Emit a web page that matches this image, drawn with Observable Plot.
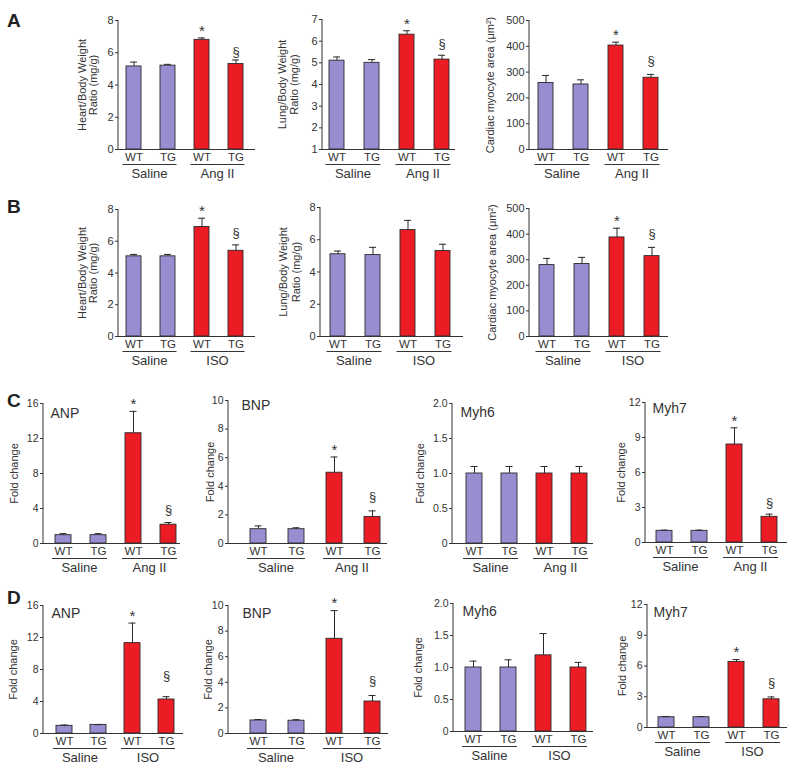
<!DOCTYPE html>
<html>
<head>
<meta charset="utf-8">
<script src="https://cdn.jsdelivr.net/npm/d3@7"></script>
<script src="https://cdn.jsdelivr.net/npm/@observablehq/plot@0.6"></script>
<style>
  html, body { margin: 0; padding: 0; background: #fff; }
  #fig { position: relative; width: 800px; height: 770px; overflow: hidden;
         font-family: "Liberation Sans", Arial, sans-serif; color: #333; }
  .panel { position: absolute; }
  .panel svg { overflow: visible; }
  .letter { position: absolute; font-weight: bold; font-size: 19px; line-height: 1; color: #222; }
</style>
</head>
<body>
<div id="fig"></div>
<script>
// ---------------- DATA ----------------
const genotypes = ["WT", "TG"];
const treatAng = ["Saline", "Ang II"];
const treatIso = ["Saline", "ISO"];

// significance markers (per bar: WT-Saline, TG-Saline, WT-treated, TG-treated)
const sigStd  = ["", "", "*", "§"];
const sigNone = ["", "", "", ""];

// Panel A (Ang II)
const heartAng    = [5.15, 5.2, 6.8, 5.3];
const heartAngSem = [0.27, 0.08, 0.12, 0.25];
const lungAng     = [5.1, 5.0, 6.3, 5.15];
const lungAngSem  = [0.17, 0.15, 0.18, 0.2];
const areaAng     = [258, 252, 403, 278];
const areaAngSem  = [29, 18, 13, 13];

// Panel B (ISO)
const heartIso    = [5.05, 5.05, 6.9, 5.4];
const heartIsoSem = [0.12, 0.12, 0.55, 0.37];
const lungIso     = [5.1, 5.05, 6.6, 5.3];
const lungIsoSem  = [0.2, 0.48, 0.6, 0.42];
const areaIso     = [279, 283, 387, 314];
const areaIsoSem  = [26, 26, 36, 34];

// Panel C (Ang II, fold change)
const anpAng     = [0.95, 0.95, 12.6, 2.15];
const anpAngSem  = [0.18, 0.18, 2.5, 0.25];
const bnpAng     = [1.0, 1.0, 4.95, 1.86];
const bnpAngSem  = [0.23, 0.1, 1.1, 0.42];
const myh6Ang    = [1.0, 1.0, 1.0, 1.0];
const myh6AngSem = [0.1, 0.1, 0.1, 0.1];
const myh7Ang    = [1.0, 1.0, 8.4, 2.2];
const myh7AngSem = [0.06, 0.06, 1.43, 0.23];

// Panel D (ISO, fold change)
const anpIso     = [0.96, 1.08, 11.3, 4.25];
const anpIsoSem  = [0.1, 0.03, 2.5, 0.35];
const bnpIso     = [1.02, 1.0, 7.4, 2.5];
const bnpIsoSem  = [0.07, 0.08, 2.2, 0.47];
const myh6Iso    = [1.0, 1.0, 1.19, 1.0];
const myh6IsoSem = [0.1, 0.12, 0.34, 0.08];
const myh7Iso    = [1.0, 1.0, 6.4, 2.75];
const myh7IsoSem = [0.07, 0.07, 0.23, 0.23];

// y tick values
const ticks0to8   = [0, 2, 4, 6, 8];
const ticks1to7   = [1, 2, 3, 4, 5, 6, 7];
const ticks0to500 = [0, 100, 200, 300, 400, 500];
const ticks0to16  = [0, 4, 8, 12, 16];
const ticks0to10  = [0, 2, 4, 6, 8, 10];
const ticks0to2   = [0, 0.5, 1, 1.5, 2];
const ticks0to12  = [0, 3, 6, 9, 12];

// labels
const heartLabel = "Heart/Body Weight\nRatio (mg/g)";
const lungLabel  = "Lung/Body Weight\nRatio (mg/g)";
const areaLabel  = "Cardiac myocyte area (μm²)";
const foldLabel  = "Fold change";
const panelLetters = ["A", "B", "C", "D"];

// ---------------- STYLE / LAYOUT ----------------
const purple = "#968ed0";
const red = "#ec1c24";
const ink = "#333";
const edge = "#2a2a2a";
const fmtInt = d => String(d);
const fmtDec = d => d === 0 ? "0" : d.toFixed(1);

const panels = [
  // row A
  {treat: treatAng, values: heartAng, sem: heartAngSem, sig: sigStd, domain: [0, 8], ticks: ticks0to8, fmt: fmtInt, label: heartLabel,
   axis: 118, end: 255, centers: [133, 168, 203, 236], yTop: 20, yBot: 149, bw: 15, labelDx: -30.5, lh: 1.05, tickFont: 11, sectDy: -8},
  {treat: treatAng, values: lungAng, sem: lungAngSem, sig: sigStd, domain: [1, 7], ticks: ticks1to7, fmt: fmtInt, label: lungLabel,
   axis: 322, end: 455, centers: [336, 371, 407, 442], yTop: 19, yBot: 149, bw: 15, labelDx: -34.5, lh: 1.15, tickFont: 11, sectDy: -11},
  {treat: treatAng, values: areaAng, sem: areaAngSem, sig: sigStd, domain: [0, 500], ticks: ticks0to500, fmt: fmtInt, label: areaLabel,
   axis: 529, end: 668, centers: [545, 580, 615, 650], yTop: 20, yBot: 149, bw: 15, labelDx: -39, lh: 1, tickFont: 11, sectDy: -14},
  // row B
  {treat: treatIso, values: heartIso, sem: heartIsoSem, sig: sigStd, domain: [0, 8], ticks: ticks0to8, fmt: fmtInt, label: heartLabel,
   axis: 118, end: 255, centers: [133, 168, 203, 237], yTop: 209, yBot: 336, bw: 15, labelDx: -30.5, lh: 1.05, tickFont: 11, sectDy: -12.5},
  {treat: treatIso, values: lungIso, sem: lungIsoSem, sig: sigNone, domain: [0, 8], ticks: ticks0to8, fmt: fmtInt, label: lungLabel,
   axis: 320, end: 463, centers: [337, 373, 410, 443], yTop: 207, yBot: 336, bw: 15, labelDx: -31, lh: 1.15, tickFont: 11, sectDy: -13},
  {treat: treatIso, values: areaIso, sem: areaIsoSem, sig: sigStd, domain: [0, 500], ticks: ticks0to500, fmt: fmtInt, label: areaLabel,
   axis: 529, end: 668, centers: [546, 581, 616, 651], yTop: 208, yBot: 336, bw: 15, labelDx: -37, lh: 1, tickFont: 11, sectDy: -13.5},
  // row C
  {treat: treatAng, values: anpAng, sem: anpAngSem, sig: sigStd, domain: [0, 16], ticks: ticks0to16, fmt: fmtInt, label: foldLabel, gene: "ANP", geneDx: 7, geneDy: 10,
   axis: 43, end: 180, centers: [63, 99, 133, 168], yTop: 403, yBot: 543, bw: 16, labelDx: -29, lh: 1, tickFont: 10.5, sectDy: -13},
  {treat: treatAng, values: bnpAng, sem: bnpAngSem, sig: sigStd, domain: [0, 10], ticks: ticks0to10, fmt: fmtInt, label: foldLabel, gene: "BNP", geneDx: 13, geneDy: 5,
   axis: 228, end: 387, centers: [256, 294, 333, 372], yTop: 400, yBot: 543, bw: 16, labelDx: -18, lh: 1, tickFont: 10.5, sectDy: -14.5},
  {treat: treatAng, values: myh6Ang, sem: myh6AngSem, sig: sigNone, domain: [0, 2], ticks: ticks0to2, fmt: fmtDec, label: foldLabel, gene: "Myh6", geneDx: 8, geneDy: 9,
   axis: 452, end: 593, centers: [474, 509, 544, 579], yTop: 403, yBot: 543, bw: 16, labelDx: -32, lh: 1, tickFont: 10.5, sectDy: -13},
  {treat: treatAng, values: myh7Ang, sem: myh7AngSem, sig: sigStd, domain: [0, 12], ticks: ticks0to12, fmt: fmtInt, label: foldLabel, gene: "Myh7", geneDx: 7, geneDy: 6,
   axis: 645, end: 787, centers: [664, 699, 734, 769], yTop: 402, yBot: 542, bw: 16, labelDx: -24, lh: 1, tickFont: 10.5, sectDy: -11.5},
  // row D
  {treat: treatIso, values: anpIso, sem: anpIsoSem, sig: sigStd, domain: [0, 16], ticks: ticks0to16, fmt: fmtInt, label: foldLabel, gene: "ANP", geneDx: 8, geneDy: 8,
   axis: 43, end: 183, centers: [63, 98, 133, 166], yTop: 605, yBot: 733, bw: 16, labelDx: -30, lh: 1, tickFont: 10.5, sectDy: -21},
  {treat: treatIso, values: bnpIso, sem: bnpIsoSem, sig: sigStd, domain: [0, 10], ticks: ticks0to10, fmt: fmtInt, label: foldLabel, gene: "BNP", geneDx: 14, geneDy: 8,
   axis: 228, end: 388, centers: [257, 295, 333, 372], yTop: 605, yBot: 733, bw: 16, labelDx: -20, lh: 1, tickFont: 10.5, sectDy: -15},
  {treat: treatIso, values: myh6Iso, sem: myh6IsoSem, sig: sigNone, domain: [0, 2], ticks: ticks0to2, fmt: fmtDec, label: foldLabel, gene: "Myh6", geneDx: 9, geneDy: 8,
   axis: 453, end: 593, centers: [472, 508, 545, 579], yTop: 603, yBot: 731, bw: 16, labelDx: -35, lh: 1, tickFont: 10.5, sectDy: -13},
  {treat: treatIso, values: myh7Iso, sem: myh7IsoSem, sig: sigStd, domain: [0, 12], ticks: ticks0to12, fmt: fmtInt, label: foldLabel, gene: "Myh7", geneDx: 6, geneDy: 8,
   axis: 647, end: 787, centers: [665, 701, 737, 772], yTop: 604, yBot: 727, bw: 16, labelDx: -25.5, lh: 1, tickFont: 10.5, sectDy: -14.5}
];

const letterPos = [{x: 7, y: 11}, {x: 7, y: 197}, {x: 7, y: 391}, {x: 7, y: 588}];

// ---------------- DRAW ----------------
const fig = document.getElementById("fig");

function makePanel(p) {
  const n = 4;
  const cats = p.treat.flatMap(t => genotypes.map(g => t + "|" + g));
  const data = cats.map((c, i) => ({
    c, treat: c.split("|")[0], geno: c.split("|")[1],
    v: p.values[i], e: p.sem[i], sig: p.sig[i]
  }));
  const mL = 58, mR = 6, mT = 30, mB = 40;
  const L = p.end - p.axis;
  const stepWanted = (p.centers[3] - p.centers[0]) / 3;
  const pi = Math.max(0, Math.min(0.95, 1 - p.bw / stepWanted));
  const po = Math.max(0, (L / stepWanted - n + pi) / 2);
  const step = L / (n - pi + 2 * po);
  const bw = step * (1 - pi);
  const slack = L - step * (n - pi);
  let align = slack > 0 ? (p.centers[0] - bw / 2 - p.axis) / slack : 0.5;
  align = Math.max(0, Math.min(1, align));
  const capInset = Math.max(0, (bw - 7) / 2);

  const groupMark = (index, scales, values, dim) => {
    const g = d3.create("svg:g");
    const x = scales.x;
    const xb = typeof x.bandwidth === "function" ? x.bandwidth() : 0;
    const xc = c => x(c) + xb / 2;
    const yb = dim.height - dim.marginBottom;
    g.append("line")
      .attr("x1", dim.marginLeft).attr("x2", dim.marginLeft)
      .attr("y1", dim.marginTop).attr("y2", yb)
      .attr("stroke", ink).attr("stroke-width", 1);
    p.treat.forEach((t, gi) => {
      const a = xc(cats[gi * 2]) - 11, b = xc(cats[gi * 2 + 1]) + 9;
      g.append("line").attr("x1", a).attr("x2", b)
        .attr("y1", yb + 15.5).attr("y2", yb + 15.5)
        .attr("stroke", ink).attr("stroke-width", 1);
      g.append("text").attr("x", (a + b) / 2).attr("y", yb + 24).attr("dy", "0.35em")
        .attr("text-anchor", "middle").attr("font-size", 13).attr("fill", ink).text(t);
    });
    return g.node();
  };

  const marks = [
    Plot.barY(data, {x: "c", y1: p.domain[0], y2: "v", fill: "treat", stroke: edge, strokeWidth: 0.9}),
    Plot.ruleX(data, {x: "c", y1: "v", y2: d => d.v + d.e, stroke: edge, strokeWidth: 1}),
    Plot.tickY(data, {x: "c", y: d => d.v + d.e, insetLeft: capInset, insetRight: capInset, stroke: edge, strokeWidth: 1}),
    Plot.text(data.filter(d => d.sig === "*"), {x: "c", y: d => d.v + d.e, text: "sig", dy: -7, fontSize: 15, fill: ink, lineAnchor: "middle"}),
    Plot.text(data.filter(d => d.sig === "§"), {x: "c", y: d => d.v + d.e, text: "sig", dy: p.sectDy, fontSize: 13, fill: ink, lineAnchor: "middle"}),
    Plot.ruleY([p.domain[0]], {stroke: ink, strokeWidth: 1}),
    Plot.axisY({ticks: p.ticks, tickSize: 3, tickPadding: 2, tickFormat: p.fmt, fontSize: p.tickFont, label: null}),
    Plot.axisX({tickSize: 0, tickPadding: 3, tickFormat: c => c.split("|")[1], fontSize: 11.5, label: null}),
    Plot.text([p.label], {frameAnchor: "left", rotate: -90, dx: p.labelDx, fontSize: 11, lineHeight: p.lh,
                          text: d => d, textAnchor: "middle", lineAnchor: "middle", fill: ink}),
    groupMark
  ];
  if (p.gene) {
    marks.push(Plot.text([p.gene], {frameAnchor: "top-left", dx: p.geneDx, dy: p.geneDy, text: d => d,
                                     textAnchor: "start", lineAnchor: "middle", fontSize: 14, fill: ink}));
  }

  const chart = Plot.plot({
    width: L + mL + mR,
    height: (p.yBot - p.yTop) + mT + mB,
    marginLeft: mL, marginRight: mR, marginTop: mT, marginBottom: mB,
    x: {type: "band", domain: cats, paddingInner: pi, paddingOuter: po, align, label: null},
    y: {domain: p.domain, label: null},
    color: {domain: p.treat, range: [purple, red]},
    style: {fontFamily: "'Liberation Sans', Arial, sans-serif", fontSize: "11px", color: ink, background: "transparent", overflow: "visible"},
    marks
  });
  const wrap = document.createElement("div");
  wrap.className = "panel";
  wrap.style.left = (p.axis - mL) + "px";
  wrap.style.top = (p.yTop - mT) + "px";
  wrap.appendChild(chart);
  fig.appendChild(wrap);
}

panels.forEach(makePanel);

panelLetters.forEach((t, i) => {
  const d = document.createElement("div");
  d.className = "letter";
  d.style.left = letterPos[i].x + "px";
  d.style.top = letterPos[i].y + "px";
  d.textContent = t;
  fig.appendChild(d);
});
</script>
</body>
</html>
